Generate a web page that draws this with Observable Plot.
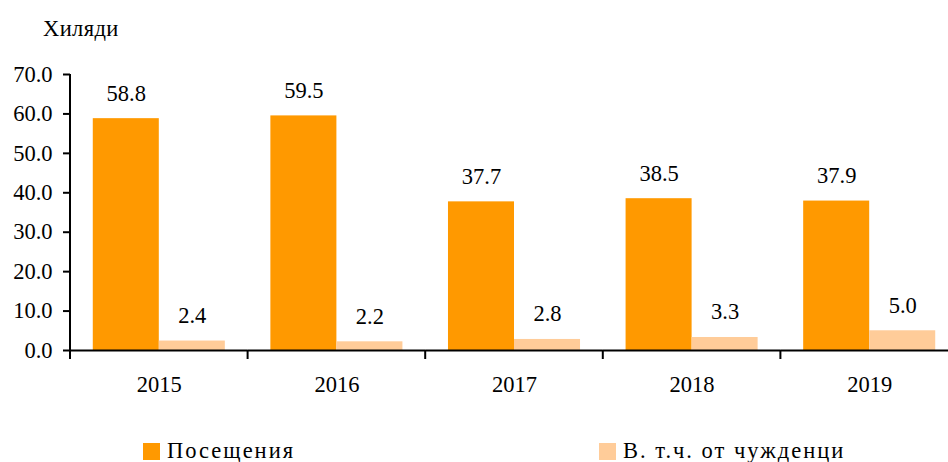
<!DOCTYPE html>
<html><head><meta charset="utf-8">
<script src="https://cdn.jsdelivr.net/npm/d3@7"></script>
<script src="https://cdn.jsdelivr.net/npm/@observablehq/plot@0.6"></script>
<style>
html,body{margin:0;padding:0;background:#fff;overflow:hidden;}
#wrap{position:relative;width:948px;height:462px;overflow:hidden;font-family:"Liberation Serif","Times New Roman",serif;color:#000;}
#title{position:absolute;left:43px;top:18px;font-size:22.5px;line-height:22.5px;letter-spacing:0.4px;white-space:nowrap;}
#chart{position:absolute;left:0;top:50px;}
#chart svg{max-width:none !important;}
#chart svg text{font-family:"Liberation Serif","Times New Roman",serif !important;font-variant:normal !important;font-variant-numeric:normal !important;}
.leg{position:absolute;top:440px;font-size:22.5px;line-height:22.5px;letter-spacing:2px;white-space:nowrap;}
.sw{position:absolute;top:443px;width:17px;height:17px;}
[aria-label="y-axis tick"]{stroke-width:2px;}
</style></head>
<body>
<div id="wrap">
  <div id="title">Хиляди</div>
  <div id="chart"></div>
  <div id="legend"></div>
</div>
<script>
const years = ["2015", "2016", "2017", "2018", "2019"];
const seriesNames = ["Посещения", "В. т.ч. от чужденци"];
const visits = [58.8, 59.5, 37.7, 38.5, 37.9];
const foreigners = [2.4, 2.2, 2.8, 3.3, 5.0];
const colors = ["#FF9900", "#FFCC99"];
const yTicks = [0, 10, 20, 30, 40, 50, 60, 70];

const data = years.flatMap((yr, i) => [
  {year: yr, series: seriesNames[0], value: visits[i]},
  {year: yr, series: seriesNames[1], value: foreigners[i]}
]);

const plot = Plot.plot({
  width: 958, height: 370,
  marginLeft: 70, marginRight: 0, marginTop: 24, marginBottom: 70,
  style: {fontFamily: "'Liberation Serif', 'Times New Roman', serif", fontSize: "22.5px", color: "#000", background: "transparent", overflow: "visible", maxWidth: "none"},
  fx: {domain: years, paddingInner: 0, paddingOuter: 0, round: false, axis: "bottom", tickSize: 0, tickPadding: 26, label: null},
  x: {domain: seriesNames, paddingInner: 0, paddingOuter: 0.345, round: false, axis: null},
  y: {domain: [0, 70], ticks: yTicks, tickFormat: d => d.toFixed(1), tickSize: 7, tickPadding: 11, label: null},
  color: {domain: seriesNames, range: colors},
  marks: [
    Plot.barY(data, {fx: "year", x: "series", y: "value", fill: "series"}),
    Plot.ruleY([0], {stroke: "#000", strokeWidth: 2}),
    Plot.text(data, {fx: "year", x: "series", y: "value", text: d => d.value.toFixed(1), lineAnchor: "bottom", dy: -18, fill: "#000"})
  ]
});
document.getElementById("chart").appendChild(plot);

// axis line and category boundary ticks, positioned through Plot's scales
const fxs = plot.scale("fx"), ys = plot.scale("y");
const y0 = ys.apply(0), yTop = ys.apply(yTicks[yTicks.length - 1]);
const g = d3.select(plot).append("g").attr("stroke", "#000").attr("stroke-width", 2);
years.forEach(yr => {
  const x = fxs.apply(yr);
  g.append("line").attr("x1", x).attr("x2", x).attr("y1", y0).attr("y2", y0 + 9);
});
const xl = fxs.apply(years[0]);
g.append("line").attr("x1", xl).attr("x2", xl).attr("y1", yTop).attr("y2", y0 + 9);

// legend
const legend = document.getElementById("legend");
const legPos = [143, 599];
seriesNames.forEach((name, i) => {
  const sw = document.createElement("div");
  sw.className = "sw"; sw.style.left = legPos[i] + "px"; sw.style.background = colors[i];
  const t = document.createElement("div");
  t.className = "leg"; t.style.left = (legPos[i] + 24) + "px"; t.textContent = name;
  legend.appendChild(sw); legend.appendChild(t);
});
</script>
</body></html>
